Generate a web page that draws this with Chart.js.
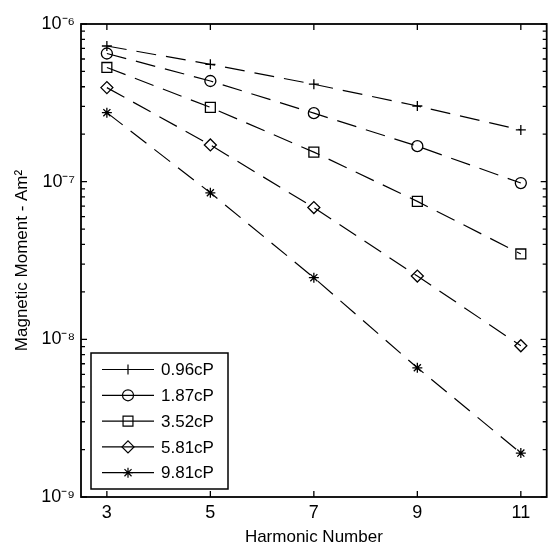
<!DOCTYPE html>
<html><head><meta charset="utf-8">
<script src="https://cdn.jsdelivr.net/npm/chart.js@4/dist/chart.umd.min.js"></script>
<style>html,body{margin:0;padding:0;background:#fff}#wrap{width:555px;height:546px;position:relative}</style>
</head><body><div id="wrap"><canvas id="c"></canvas></div>
<script>
// ---- data ----
const harmonics = [3, 5, 7, 9, 11];
const seriesLabels = ['0.96cP', '1.87cP', '3.52cP', '5.81cP', '9.81cP'];
const s096 = [7.25e-7, 5.55e-7, 4.15e-7, 3.02e-7, 2.13e-7];
const s187 = [6.5e-7, 4.35e-7, 2.72e-7, 1.68e-7, 9.8e-8];
const s352 = [5.3e-7, 2.96e-7, 1.54e-7, 7.5e-8, 3.48e-8];
const s581 = [3.95e-7, 1.71e-7, 6.85e-8, 2.52e-8, 9.1e-9];
const s981 = [2.74e-7, 8.5e-8, 2.46e-8, 6.6e-9, 1.9e-9];
const xTicks = [3, 5, 7, 9, 11];
const yTicks = [1e-9, 1e-8, 1e-7, 1e-6];
const yTickLabels = ['10⁻⁹', '10⁻⁸', '10⁻⁷', '10⁻⁶'];
const xTitle = 'Harmonic Number';
const yTitle = 'Magnetic Moment - Am²';

const seriesValues = [s096, s187, s352, s581, s981];
const markerStyles = ['cross', 'circle', 'rect', 'rectRot', 'star'];
const markerRadii = [5, 5.5, 7, 6, 5];
const FONT = "'Liberation Sans', Arial, Helvetica, sans-serif";

const datasets = seriesValues.map((vals, i) => ({
  label: seriesLabels[i],
  data: harmonics.map((h, j) => ({x: h, y: vals[j]})),
  borderColor: '#000',
  borderWidth: 1.2,
  borderDash: [20, 10],
  fill: false,
  tension: 0,
  pointStyle: markerStyles[i],
  pointRadius: markerRadii[i],
  pointBorderWidth: 1.3,
  pointBorderColor: '#000',
  pointBackgroundColor: 'rgba(0,0,0,0)'
}));

function drawMarker(ctx, style, r, x, y) {
  if (Chart.helpers && Chart.helpers.drawPoint) {
    ctx.fillStyle = 'rgba(0,0,0,0)';
    Chart.helpers.drawPoint(ctx, {pointStyle: style, radius: r, rotation: 0, borderWidth: 1.3}, x, y);
  }
}

const framePlugin = {
  id: 'frame',
  afterDraw(chart) {
    const {ctx, chartArea: a, scales: {x, y}} = chart;
    ctx.save();
    ctx.strokeStyle = '#000';
    ctx.lineWidth = 1.3;
    ctx.setLineDash([]);
    ctx.beginPath();
    xTicks.forEach(v => {
      const px = x.getPixelForValue(v);
      ctx.moveTo(px, a.bottom); ctx.lineTo(px, a.bottom - 6);
      ctx.moveTo(px, a.top); ctx.lineTo(px, a.top + 6);
    });
    for (let e = -9; e <= -6; e++) {
      for (let m = 1; m < 10; m++) {
        const v = m * Math.pow(10, e);
        if (v > 1.0000001e-6) break;
        const py = y.getPixelForValue(v);
        const L = m === 1 ? 6 : 4;
        ctx.moveTo(a.left, py); ctx.lineTo(a.left + L, py);
        ctx.moveTo(a.right, py); ctx.lineTo(a.right - L, py);
      }
    }
    ctx.stroke();
    // axes box
    ctx.lineWidth = 1.8;
    ctx.strokeRect(a.left, a.top, a.right - a.left, a.bottom - a.top);

    // legend box
    const lx = a.left + 10, ly = a.top + 329, lw = 137, lh = 136;
    ctx.fillStyle = '#fff';
    ctx.fillRect(lx, ly, lw, lh);
    ctx.lineWidth = 1.5;
    ctx.strokeRect(lx, ly, lw, lh);
    ctx.font = '17px ' + FONT;
    ctx.textBaseline = 'middle';
    ctx.textAlign = 'left';
    chart.data.datasets.forEach((ds, i) => {
      const cy = ly + 16.5 + i * 25.8;
      ctx.strokeStyle = '#000';
      ctx.lineWidth = 1.2;
      ctx.setLineDash([]);
      ctx.beginPath();
      ctx.moveTo(lx + 11, cy); ctx.lineTo(lx + 63, cy);
      ctx.stroke();
      drawMarker(ctx, ds.pointStyle, ds.pointRadius, lx + 37, cy);
      ctx.fillStyle = '#000';
      ctx.fillText(ds.label, lx + 70, cy + 1);
    });
    ctx.restore();
  }
};

new Chart(document.getElementById('c'), {
  type: 'line',
  data: {datasets},
  options: {
    responsive: true,
    maintainAspectRatio: false,
    animation: false,
    layout: {padding: {top: 24, right: 1, left: 0, bottom: 0}},
    plugins: {legend: {display: false}, tooltip: {enabled: false}},
    scales: {
      x: {
        type: 'linear',
        min: 2.5, max: 11.5,
        afterBuildTicks: s => { s.ticks = xTicks.map(v => ({value: v})); },
        afterFit: s => { s.height = 49; },
        grid: {display: false, drawTicks: false},
        border: {display: false},
        ticks: {color: '#000', font: {family: FONT, size: 18, lineHeight: 1}, padding: 7, maxRotation: 0, autoSkip: false},
        title: {display: true, text: xTitle, color: '#000', font: {family: FONT, size: 17, lineHeight: 1}, padding: {top: 0, bottom: 0}}
      },
      y: {
        type: 'logarithmic',
        min: 1e-9, max: 1e-6,
        afterBuildTicks: s => { s.ticks = yTicks.map(v => ({value: v})); },
        afterFit: s => { s.width = 81; },
        grid: {display: false, drawTicks: false},
        border: {display: false},
        ticks: {color: '#000', font: {family: FONT, size: 18}, padding: 6, autoSkip: false,
          callback: (v, i) => yTickLabels[i]},
        title: {display: true, text: yTitle, color: '#000', font: {family: FONT, size: 17}, padding: {top: 12, bottom: 0}}
      }
    }
  },
  plugins: [framePlugin]
});
</script>
</body></html>
